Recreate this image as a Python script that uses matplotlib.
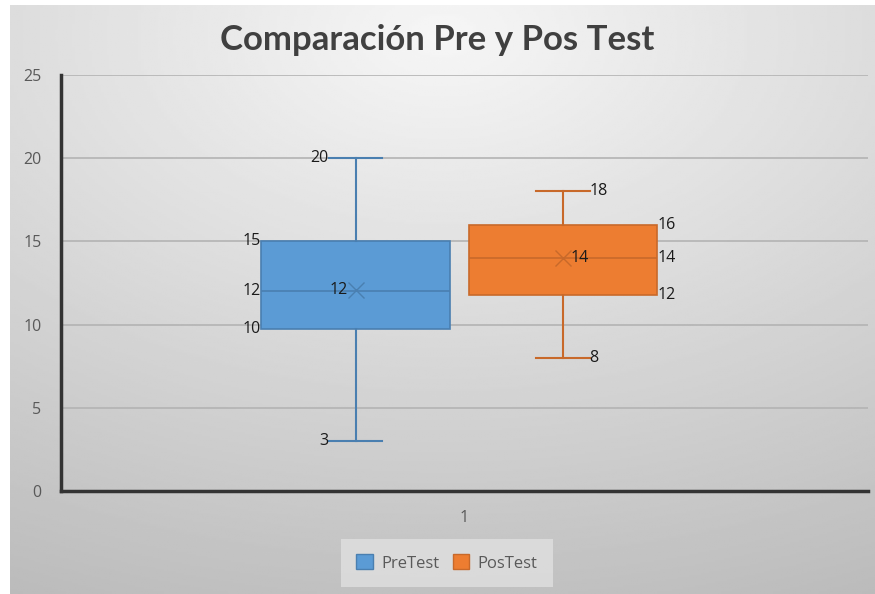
import numpy as np
import matplotlib.pyplot as plt
from matplotlib.patches import Patch

# datos (resumen de cinco números + media)
series = ['PreTest', 'PosTest']
whislo = [3, 8]
q1 = [9.75, 11.75]
med = [12, 14]
q3 = [15, 16]
whishi = [20, 18]
means = [12.1, 14]
categoria = ['1']

fill_colors = ['#5B9BD5', '#ED7D31']
line_colors = ['#4A7FB0', '#C8692A']

plt.rcParams['font.family'] = ['Open Sans', 'DejaVu Sans']

fig = plt.figure(figsize=(8.75, 5.94), dpi=100)

# fondo degradado del gráfico
bg = fig.add_axes([10 / 875, 0, 865 / 875, 589 / 594], zorder=-10)
yy, xx = np.mgrid[0:1:300j, 0:1:300j]
r = np.sqrt(((xx - 0.5) * 1.0) ** 2 + ((yy - 0.05) * 1.1) ** 2)
bg.imshow(0.965 - 0.2 * r, cmap='gray', vmin=0, vmax=1, aspect='auto',
          extent=[0, 1, 0, 1], origin='upper')
bg.axis('off')

ax = fig.add_axes([61 / 875, 103 / 594, 807 / 875, 416 / 594])
ax.set_facecolor('none')

centro = 0.5
posiciones = [centro - 0.135, centro + 0.122]
ancho = 0.234

stats = []
for i in range(len(series)):
    stats.append(dict(whislo=whislo[i], q1=q1[i], med=med[i], q3=q3[i],
                      whishi=whishi[i], mean=means[i], fliers=[], label=series[i]))

for i, st in enumerate(stats):
    ax.bxp([st], positions=[posiciones[i]], widths=ancho, patch_artist=True,
           showmeans=True, manage_ticks=False,
           boxprops=dict(facecolor=fill_colors[i], edgecolor=line_colors[i], linewidth=1.2),
           medianprops=dict(color=line_colors[i], linewidth=1.2),
           whiskerprops=dict(color=line_colors[i], linewidth=1.5),
           capprops=dict(color=line_colors[i], linewidth=1.5),
           capwidths=0.066,
           meanprops=dict(marker='x', markeredgecolor=line_colors[i], markersize=11,
                          markeredgewidth=1.0), zorder=3)

# etiquetas de datos
lbl = dict(fontsize=11.5, color='#1a1a1a', va='center', zorder=5)
p = posiciones[0]
ax.text(p - 0.033, whishi[0], f'{whishi[0]:.0f}', ha='right', **lbl)
ax.text(p - 0.033, whislo[0], f'{whislo[0]:.0f}', ha='right', **lbl)
ax.text(p - ancho / 2, q3[0], f'{q3[0]:.0f}', ha='right', **lbl)
ax.text(p - ancho / 2, med[0], f'{med[0]:.0f}', ha='right', **lbl)
ax.text(p - ancho / 2, q1[0], f'{q1[0]:.0f}', ha='right', **lbl)
ax.text(p - 0.01, means[0], f'{means[0]:.0f}', ha='right', **lbl)

p = posiciones[1]
ax.text(p + 0.033, whishi[1], f'{whishi[1]:.0f}', ha='left', **lbl)
ax.text(p + 0.033, whislo[1], f'{whislo[1]:.0f}', ha='left', **lbl)
ax.text(p + ancho / 2, q3[1], f'{q3[1]:.0f}', ha='left', **lbl)
ax.text(p + ancho / 2, med[1], f'{med[1]:.0f}', ha='left', **lbl)
ax.text(p + ancho / 2, q1[1], f'{q1[1]:.0f}', ha='left', **lbl)
ax.text(p + 0.01, means[1], f'{means[1]:.0f}', ha='left', **lbl)

ax.set_xlim(0, 1)
ax.set_ylim(0, 25)
ax.set_yticks(range(0, 26, 5))
ax.set_xticks([centro])
ax.set_xticklabels(categoria)
ax.yaxis.grid(True, color='#b3b3b3', linewidth=1.2)
ax.set_axisbelow(True)
for s in ['top', 'right']:
    ax.spines[s].set_visible(False)
for s in ['left', 'bottom']:
    ax.spines[s].set_color('#333333')
    ax.spines[s].set_linewidth(2.5)
ax.tick_params(axis='both', length=0, labelsize=11.5, labelcolor='#595959', pad=14)
ax.tick_params(axis='x', pad=14)

fig.text(0.5, 0.932, 'Comparación Pre y Pos Test', ha='center', va='center',
         fontsize=25, fontweight='bold', color='#404040', family='Lato')

handles = [Patch(facecolor=fill_colors[i], edgecolor=line_colors[i], label=series[i])
           for i in range(len(series))]
leg = fig.legend(handles=handles, loc='center', bbox_to_anchor=(447 / 875, 1 - 563 / 594),
                 ncol=2, frameon=True, fontsize=12, handlelength=1.0, handleheight=1.0,
                 columnspacing=0.8, handletextpad=0.5, borderpad=0.9, fancybox=False)
leg.get_frame().set_facecolor('#e0e0e0')
leg.get_frame().set_edgecolor('none')
for t in leg.get_texts():
    t.set_color('#595959')

fig.savefig('out.png', dpi=100)
